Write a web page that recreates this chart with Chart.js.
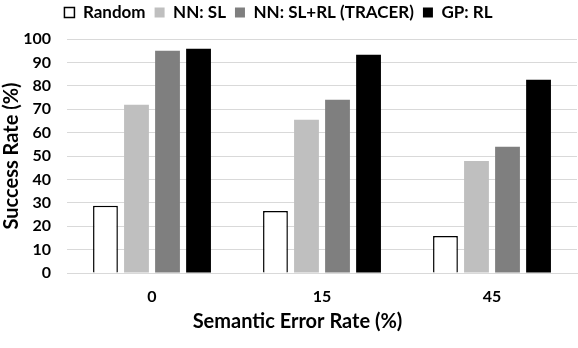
<!DOCTYPE html>
<html><head><meta charset="utf-8">
<script src="https://cdn.jsdelivr.net/npm/chart.js@4/dist/chart.umd.min.js"></script>
<style>html,body{margin:0;padding:0;background:#fff}#w{width:578px;height:348px}</style>
</head><body><div id="w"><canvas id="c"></canvas></div>
<script>
const categories = ["0", "15", "45"];
const seriesNames = ["Random", "NN: SL", "NN: SL+RL (TRACER)", "GP: RL"];
const randomVals = [28.7, 26.5, 15.8];
const nnSlVals = [71.9, 65.5, 47.9];
const tracerVals = [95.0, 74.0, 53.9];
const gpVals = [95.8, 93.3, 82.6];
const yTicks = [0,10,20,30,40,50,60,70,80,90,100];

const FONT = "Lato, 'Open Sans', sans-serif";
const fills = ["#ffffff", "#bfbfbf", "#7f7f7f", "#000000"];
const borders = ["#000000", "#bfbfbf", "#7f7f7f", "#000000"];
const vals = [randomVals, nnSlVals, tracerVals, gpVals];

const shiftBoxes = {
  id: 'shiftBoxes',
  afterLayout(chart) {
    const lg = chart.legend;
    if (lg) { lg.left -= 10; lg.right -= 10; lg.top -= 8; lg.bottom -= 8; }
    const tb = chart.titleBlock;
    if (tb) { tb.left += 9; tb.right += 9; }
  }
};

new Chart(document.getElementById('c'), {
  type: 'bar',
  plugins: [shiftBoxes],
  data: {
    labels: categories,
    datasets: seriesNames.map((n, i) => ({
      label: n, data: vals[i], backgroundColor: fills[i], borderColor: borders[i],
      borderWidth: i === 0 ? 1.5 : 0, barPercentage: 0.8, categoryPercentage: 0.73
    }))
  },
  options: {
    responsive: true, maintainAspectRatio: false, animation: false,
    layout: { padding: { left: 0, right: 1, top: 3, bottom: 0 } },
    plugins: {
      legend: {
        position: 'top',
        labels: { font: { family: FONT, size: 17, weight: 'bold' }, color: '#000',
          boxWidth: 10, boxHeight: 10, padding: 9 }
      },
      title: {
        display: true, position: 'bottom', text: 'Semantic Error Rate (%)',
        font: { family: FONT, size: 20, weight: 'bold' }, color: '#000',
        padding: { top: 0, bottom: 14 }
      },
      tooltip: { enabled: false }
    },
    scales: {
      x: {
        afterFit: (s) => { s.height = 37; },
        grid: { display: false, drawTicks: false },
        border: { display: true, color: '#d9d9d9', width: 1 },
        ticks: { font: { family: FONT, size: 16, weight: 'bold' }, color: '#000', padding: 14, maxRotation: 0 }
      },
      y: {
        min: 0, max: 100,
        afterBuildTicks: (s) => { s.ticks = yTicks.map(v => ({ value: v })); },
        afterFit: (s) => { s.width = 67; },
        grid: { color: '#d9d9d9', lineWidth: 1, drawTicks: false },
        border: { display: false },
        ticks: { font: { family: FONT, size: 16, weight: 'bold' }, color: '#000', padding: 16, autoSkip: false },
        title: { display: true, text: 'Success Rate (%)', font: { family: FONT, size: 20, weight: 'bold' }, color: '#000', padding: { top: 0, bottom: 0 } }
      }
    }
  }
});
</script></body></html>
